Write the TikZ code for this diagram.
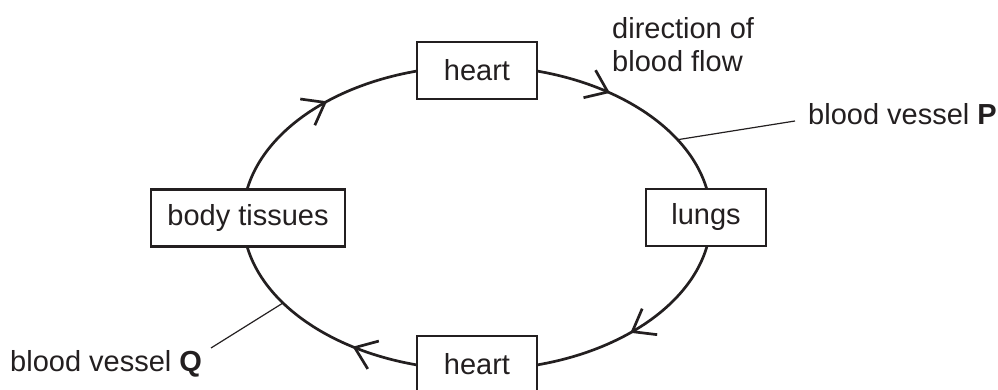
\documentclass[tikz,border=0pt]{standalone}
\usepackage{fontspec}
\setmainfont{Liberation Sans}
\definecolor{ink}{RGB}{35,31,32}
\begin{document}
\begin{tikzpicture}[x=1pt,y=1pt,
  every node/.style={text=ink, font=\fontsize{29pt}{33pt}\selectfont},
  organ/.style={draw=ink, line width=2.6pt, fill=white, inner sep=0pt,
    minimum height=57pt, anchor=center},
  vessel/.style={draw=ink, line width=2.7pt},
  barb/.style={draw=ink, line width=2.7pt, line join=miter},
  leader/.style={draw=ink, line width=1.2pt},
  lbl/.style={inner sep=0pt, anchor=base west}]
\useasboundingbox (0,0) rectangle (998,390);
% circulation loop
\draw[vessel] (477,172) ellipse [x radius=234, y radius=152];
% direction arrows (clockwise)
\foreach \t in {56,130.5,238.5,311.6} {
  \pgfmathsetmacro\ang{atan2(-152*cos(\t), 234*sin(\t))}
  \draw[barb, shift={({477+234*cos(\t)},{172+152*sin(\t)})}, rotate=\ang]
    (-20,15) -- (0,0) -- (-20,-15);
}
% organs
\node[organ, minimum width=120pt] (heartTop) at (477,319.5) {heart};
\node[organ, minimum width=120pt] (lungs) at (706,172.5) {lungs};
\node[organ, minimum width=194pt] (body) at (248,172) {body tissues};
\node[organ, minimum width=120pt] (heartBot) at (477,25.5) {heart};
% labels
\node[lbl] (dirA) at (612,351) {direction of};
\node[lbl] (dirB) at (612,318) {blood flow};
\node[lbl] (vesP) at (808,265) {blood vessel \textbf{P}};
\node[lbl] (vesQ) at (10,18) {blood vessel \textbf{Q}};
% leader lines
\coordinate (onP) at ({477+234*cos(31)},{172+152*sin(31)});
\coordinate (endP) at (795,269);
\coordinate (onQ) at ({477+234*cos(214)},{172+152*sin(214)});
\coordinate (endQ) at (211,42);
\draw[leader] (onP) -- (endP);
\draw[leader] (onQ) -- (endQ);
\end{tikzpicture}
\end{document}
